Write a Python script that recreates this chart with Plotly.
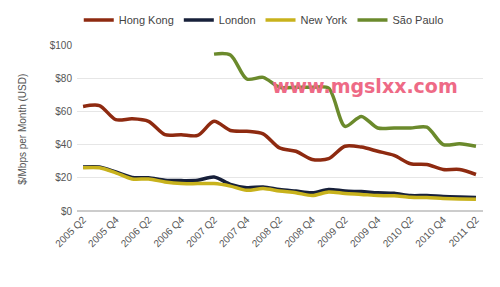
import plotly.graph_objects as go

quarters = ["2005 Q2", "2005 Q3", "2005 Q4", "2006 Q1", "2006 Q2", "2006 Q3", "2006 Q4", "2007 Q1",
            "2007 Q2", "2007 Q3", "2007 Q4", "2008 Q1", "2008 Q2", "2008 Q3", "2008 Q4", "2009 Q1",
            "2009 Q2", "2009 Q3", "2009 Q4", "2010 Q1", "2010 Q2", "2010 Q3", "2010 Q4", "2011 Q1",
            "2011 Q2"]
tick_labels = quarters[::2]

hong_kong = [63, 63.5, 55, 55.5, 54, 46, 46, 45.5, 54, 48.5, 48, 46.5, 38, 36, 31, 31.5,
             39, 38.5, 36, 33.5, 28.5, 28, 25, 25, 22]
london = [26.5, 26.5, 23.5, 20.2, 20, 18.5, 18.3, 18.5, 20.5, 16, 14, 14.5, 13, 12, 11, 13,
          12, 11.7, 11, 10.7, 9.3, 9.3, 8.7, 8.4, 8.2]
new_york = [26, 26, 23, 19.3, 19.3, 17.5, 16.5, 16.5, 16.5, 15, 12.5, 13.5, 12, 11, 9.3, 11.5,
            10.5, 10, 9.3, 9.2, 8.3, 8.1, 7.6, 7.3, 7.1]
sao_paulo = [None] * 8 + [94.5, 94, 79.5, 80.5, 74.5, 74.5, 74.5, 74, 51, 57, 50, 50, 50, 50.5,
                          40, 40.5, 39]

series = [
    ("Hong Kong", hong_kong, "#8e2a10"),
    ("London", london, "#17203a"),
    ("New York", new_york, "#c8b21c"),
    ("São Paulo", sao_paulo, "#6b8a2c"),
]

fig = go.Figure()
for name, vals, color in series:
    fig.add_trace(go.Scatter(
        x=quarters, y=vals, name=name, mode="lines",
        line=dict(color=color, width=3.5, shape="spline", smoothing=0.8),
        connectgaps=False,
    ))

fig.add_annotation(
    text="<b>www.mgslxx.com</b>", x=0.71, y=0.755, xref="paper", yref="paper",
    showarrow=False, font=dict(family="DejaVu Sans", size=19, color="#ee6a86"),
    xanchor="center", yanchor="middle",
)
fig.add_annotation(
    text="$/Mbps per Month (USD)", x=-0.135, y=0.49, xref="paper", yref="paper",
    showarrow=False, textangle=-90, font=dict(size=10, color="#555555"),
    xanchor="center", yanchor="middle",
)

fig.update_layout(
    width=500, height=287,
    margin=dict(l=77, r=17, t=45, b=76, autoexpand=False),
    paper_bgcolor="white", plot_bgcolor="white",
    font=dict(family="Liberation Sans", size=10, color="#555555"),
    showlegend=True,
    legend=dict(orientation="h", x=0.46, xanchor="center", y=1.15, yanchor="middle",
                font=dict(size=11, color="#444444"), itemwidth=30,
                tracegroupgap=0, bgcolor="rgba(0,0,0,0)"),
    xaxis=dict(
        type="category", range=[-0.37, 24.43],
        tickmode="array", tickvals=tick_labels, ticktext=tick_labels,
        tickangle=-45, showgrid=False, zeroline=False,
        showline=False, ticks="", tickfont=dict(size=10, color="#555555"),
        automargin=False,
    ),
    yaxis=dict(
        range=[0, 100], tickvals=[0, 20, 40, 60, 80, 100],
        ticktext=["$0", "$20", "$40", "$60", "$80", "$100"],
        showgrid=True, gridcolor="#e6e6e6", gridwidth=1,
        zeroline=True, zerolinecolor="#cccccc", zerolinewidth=2,
        ticks="", tickfont=dict(size=10, color="#555555"), ticklabelstandoff=4,
        automargin=False,
    ),
)

fig.write_html("out.html")
